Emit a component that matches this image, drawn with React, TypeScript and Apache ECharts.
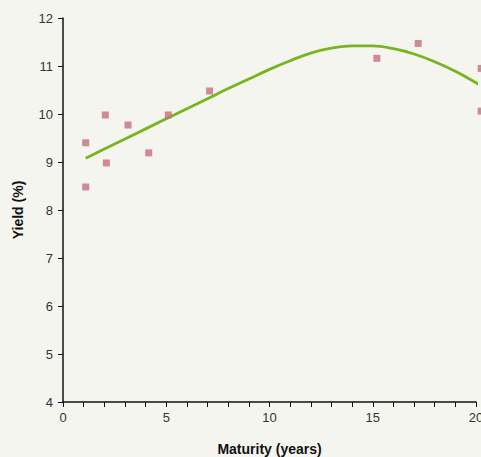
import React, { useEffect, useRef } from "react";
import * as echarts from "echarts";

const scatterX = [1.1, 1.1, 2.05, 2.1, 3.15, 4.15, 5.1, 7.1, 15.2, 17.2, 20.25, 20.25];
const scatterY = [9.4, 8.48, 9.98, 8.98, 9.77, 9.19, 9.98, 10.48, 11.16, 11.47, 10.95, 10.06];

const curveX = [1.1, 2, 3, 4, 5, 6, 7, 8, 9, 10, 11, 12, 13, 14, 15, 16, 17, 18, 19, 20.2];
const curveY = [9.08, 9.27, 9.48, 9.69, 9.9, 10.11, 10.32, 10.53, 10.73, 10.93, 11.11, 11.27, 11.37, 11.42, 11.42, 11.36, 11.25, 11.09, 10.89, 10.6];

const xLabels = ["0", "5", "10", "15", "20"];
const xTitle = "Maturity (years)";
const yTitle = "Yield (%)";

const FONT = "'Liberation Sans', Arial, Helvetica, sans-serif";

export default function App() {
  const ref = useRef<HTMLDivElement>(null);
  useEffect(() => {
    if (!ref.current) return;
    document.body.style.margin = "0";
    document.body.style.overflow = "hidden";
    const chart = echarts.init(ref.current, undefined, { renderer: "svg" });
    chart.setOption({
      animation: false,
      backgroundColor: "#f5f5f0",
      textStyle: { fontFamily: FONT },
      grid: {
        left: 63,
        right: 5,
        top: 18,
        bottom: 55,
        containLabel: false,
        outerBoundsMode: "none",
      },
      xAxis: {
        type: "value",
        min: 0,
        max: 20,
        interval: 1,
        name: xTitle,
        nameLocation: "middle",
        nameGap: 40,
        nameTextStyle: { fontSize: 14, fontWeight: "bold", color: "#111", fontFamily: FONT },
        axisLine: { show: true, lineStyle: { color: "#111", width: 1.5 } },
        axisTick: { show: true, length: 5, lineStyle: { color: "#111", width: 1 } },
        axisLabel: {
          fontSize: 13,
          color: "#333",
          margin: 9,
          fontFamily: FONT,
          formatter: (v: number) => (xLabels.includes(String(v)) ? String(v) : ""),
        },
        splitLine: { show: false },
      },
      yAxis: {
        type: "value",
        min: 4,
        max: 12,
        interval: 1,
        name: yTitle,
        nameLocation: "middle",
        nameGap: 38,
        nameRotate: 90,
        nameTextStyle: { fontSize: 14, fontWeight: "bold", color: "#111", fontFamily: FONT },
        axisLine: { show: true, lineStyle: { color: "#111", width: 1.5 } },
        axisTick: { show: true, length: 5, lineStyle: { color: "#111", width: 1 } },
        axisLabel: { fontSize: 13, color: "#333", margin: 10, fontFamily: FONT },
        splitLine: { show: false },
      },
      series: [
        {
          type: "line",
          data: curveX.map((x, i) => [x, curveY[i]]),
          smooth: 0.4,
          showSymbol: false,
          symbol: "none",
          clip: false,
          lineStyle: { color: "#78b41e", width: 2.8 },
          z: 2,
        },
        {
          type: "scatter",
          data: scatterX.map((x, i) => [x, scatterY[i]]),
          symbol: "rect",
          symbolSize: 7,
          clip: false,
          itemStyle: { color: "#c4707a" },
          z: 3,
        },
      ],
    });
    return () => chart.dispose();
  }, []);
  return (
    <div
      ref={ref}
      style={{ position: "absolute", left: 0, top: 0, width: 481, height: 457 }}
    />
  );
}
